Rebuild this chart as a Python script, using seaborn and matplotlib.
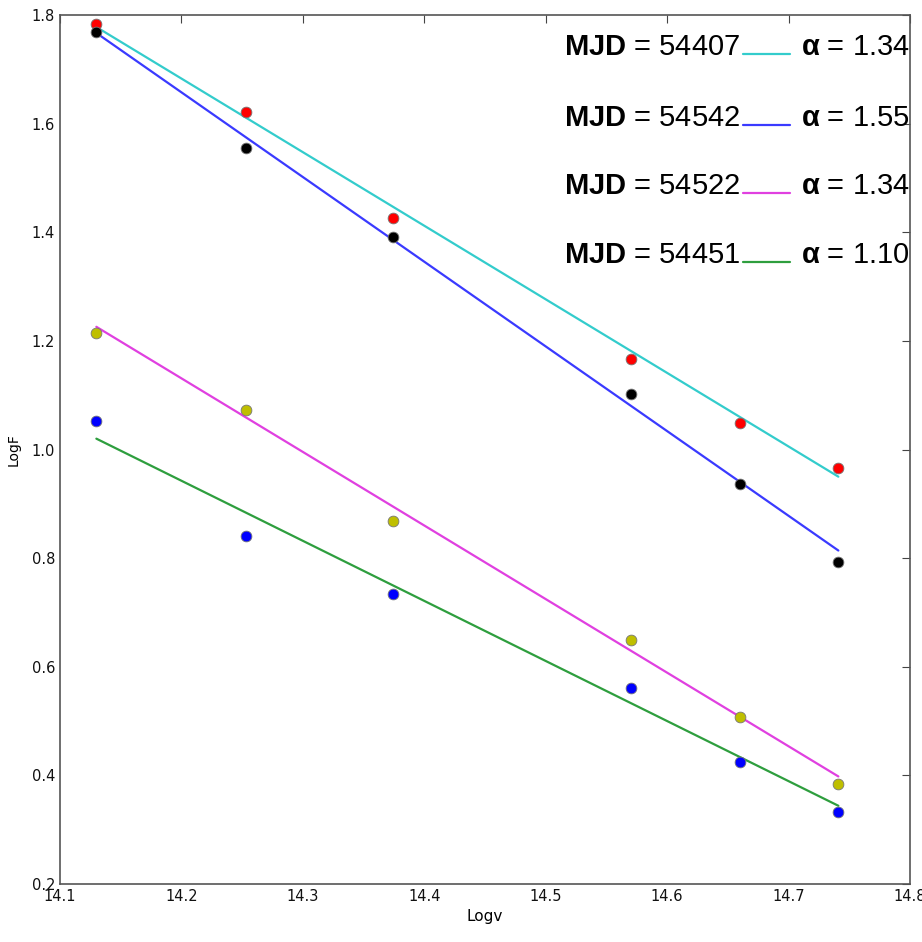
"""Spectral slope fits: LogF vs Logv for four epochs."""

import matplotlib

matplotlib.use("Agg")
import matplotlib.pyplot as plt
import pandas as pd
import seaborn as sns
from matplotlib.lines import Line2D

# observed frequencies (log)
log_nu = [14.130, 14.253, 14.374, 14.570, 14.660, 14.741]

# observed log flux per epoch
flux_54407 = [1.783, 1.621, 1.426, 1.167, 1.049, 0.966]
flux_54542 = [1.769, 1.555, 1.391, 1.103, 0.937, 0.792]
flux_54522 = [1.215, 1.073, 0.869, 0.650, 0.508, 0.385]
flux_54451 = [1.053, 0.841, 0.734, 0.560, 0.425, 0.333]

# fitted lines, evaluated at the first and last frequency
fit_nu = [14.130, 14.741]
fit_54407 = [1.778, 0.950]
fit_54542 = [1.767, 0.814]
fit_54522 = [1.226, 0.398]
fit_54451 = [1.020, 0.344]

mjd = ["54407", "54542", "54522", "54451"]
alpha = ["1.34", "1.55", "1.34", "1.10"]
point_colors = ["#ff0000", "#000000", "#bfbf00", "#0000ff"]
line_colors = ["#33cccc", "#3a3aff", "#e040e0", "#2e9e3e"]

sns.set_style("white")
plt.rcParams["font.family"] = ["DejaVu Sans"]
plt.rcParams["text.color"] = "black"
plt.rcParams["axes.labelcolor"] = "black"
plt.rcParams["mathtext.fontset"] = "custom"
plt.rcParams["mathtext.rm"] = "Liberation Sans"
plt.rcParams["mathtext.bf"] = "Liberation Sans:bold"

fluxes = [flux_54407, flux_54542, flux_54522, flux_54451]
fits = [fit_54407, fit_54542, fit_54522, fit_54451]

fig = plt.figure(figsize=(9.22, 9.42), dpi=100)
ax = fig.add_axes([0.065, 0.0616, 0.922, 0.9224])

for i in range(4):
    fit_df = pd.DataFrame({"nu": fit_nu, "f": fits[i]})
    sns.lineplot(data=fit_df, x="nu", y="f", color=line_colors[i], lw=1.6, ax=ax)

for i in range(4):
    pts = pd.DataFrame({"nu": log_nu, "f": fluxes[i]})
    sns.scatterplot(data=pts, x="nu", y="f", color=point_colors[i], s=60,
                    edgecolor="#777777", linewidth=0.6, ax=ax, zorder=3)

ax.set_xlim(14.1, 14.8)
ax.set_ylim(0.2, 1.8)
ax.set_xticks([14.1, 14.2, 14.3, 14.4, 14.5, 14.6, 14.7, 14.8])
ax.set_yticks([0.2, 0.4, 0.6, 0.8, 1.0, 1.2, 1.4, 1.6, 1.8])
ax.tick_params(direction="in", length=6, width=0.8, top=True, right=True,
               labelsize=10.5, colors="#444444", labelcolor="#111111")
for s in ax.spines.values():
    s.set_color("#555555")
    s.set_linewidth(1.2)
ax.set_xlabel("Logv", fontsize=11, labelpad=4)
ax.set_ylabel("LogF", fontsize=10, labelpad=8)

# legend laid out as text / line / text rows
rows_y = [0.963, 0.881, 0.803, 0.724]
for i in range(4):
    y = rows_y[i]
    ax.text(0.800, y, r"$\mathbf{MJD}$ = " + mjd[i], transform=ax.transAxes,
            ha="right", va="center", fontsize=21, family="Liberation Sans",
            color="black")
    ax.add_line(Line2D([0.804, 0.859], [y - 0.008, y - 0.008], transform=ax.transAxes,
                       color=line_colors[i], lw=1.6))
    ax.text(0.872, y, r"$\mathbf{α}$ = " + alpha[i], transform=ax.transAxes,
            ha="left", va="center", fontsize=21, family="Liberation Sans",
            color="black")

fig.savefig("out.png", dpi=100)
